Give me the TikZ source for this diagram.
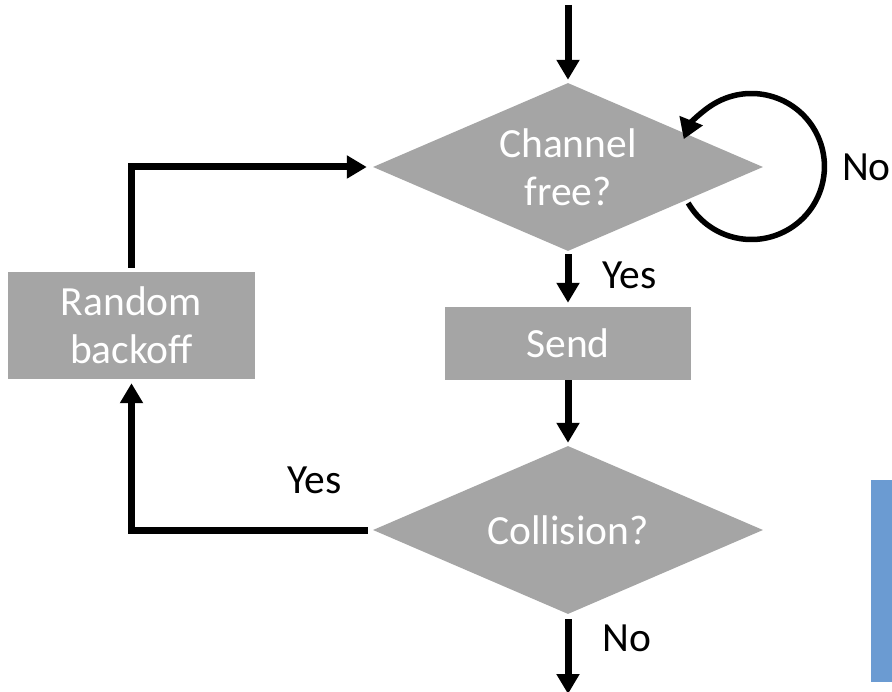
\documentclass[tikz,border=0pt]{standalone}
\usepackage{fontspec}
\setmainfont{Carlito}
\usetikzlibrary{shapes.geometric,arrows.meta,calc}
\definecolor{boxgray}{HTML}{A5A5A5}
\definecolor{sideblue}{HTML}{6B9BD2}
\begin{document}
\begin{tikzpicture}[x=1pt,y=-1pt,
  txt/.style={font=\fontsize{41.5}{48}\selectfont, align=center},
  decision/.style={txt, diamond, fill=boxgray, text=white, inner sep=0pt, aspect=2.32, minimum width=390pt, minimum height=168pt},
  process/.style={txt, rectangle, fill=boxgray, text=white, inner sep=0pt},
  lbl/.style={txt, text=black, inner sep=0pt},
  arr/.style={line width=7pt, -{Triangle[length=20pt,width=22pt]}},
  loop/.style={line width=5.5pt, -{Triangle[length=20pt,width=24pt]}}]
\useasboundingbox (0,0) rectangle (892,692);
\fill[sideblue] (871,480) rectangle (892,682);

\node[decision] (d1) at (568,167) {Channel\\free?};
\node[process, minimum width=246pt, minimum height=73pt] (send) at (568,343.5) {Send};
\node[decision] (d2) at (568,530) {Collision?};
\node[process, minimum width=247pt, minimum height=107pt] (rb) at (131.5,325.5) {Random\\backoff};

\coordinate (start) at (568,5);
\coordinate (finish) at (568,694);

\draw[arr, shorten >=3pt] (start) -- (d1.north);
\draw[arr, shorten <=3pt, shorten >=4pt] (d1.south) -- (send.north);
\draw[arr, shorten >=3pt] (send.south) -- (d2.north);
\draw[arr, shorten <=5pt] (d2.south) -- (finish);
\draw[arr, shorten <=5pt, shorten >=4pt] (d2.west) -| (rb.south);
\draw[arr, shorten <=4pt, shorten >=6pt] (rb.north) |- (d1.west);
\draw[loop] ($(d1.east)+(-75,36)$) arc[start angle=150, end angle=-158, radius=73];

\node[lbl, anchor=west] (yes1) at (602,275) {Yes};
\node[lbl, anchor=east] (no1) at (891,167) {No};
\node[lbl, anchor=west] (yes2) at (287,480) {Yes};
\node[lbl, anchor=west] (no2) at (602,638) {No};
\end{tikzpicture}
\end{document}
